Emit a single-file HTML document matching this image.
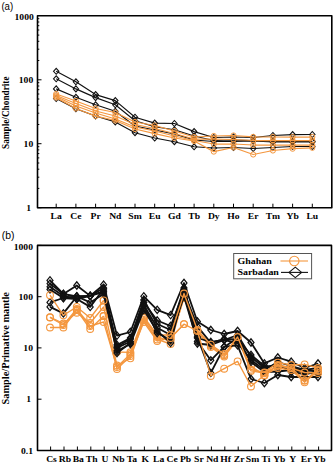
<!DOCTYPE html>
<html><head><meta charset="utf-8"><style>
html,body{margin:0;padding:0;background:#fff;width:334px;height:463px;overflow:hidden;}
svg{display:block;font-family:"Liberation Sans", sans-serif;}
</style></head><body>
<svg width="334" height="463" viewBox="0 0 334 463">
<rect width="334" height="463" fill="#fff"/>
<polyline points="56.2,71.3 75.9,81.8 95.6,94.6 115.3,100.6 135.0,117.2 154.7,123.1 174.4,123.5 194.1,131.6 213.8,137.5 233.5,137.0 253.2,137.5 272.9,135.5 292.6,134.6 312.3,134.5" fill="none" stroke="#111" stroke-width="1.15" stroke-linejoin="round"/>
<path d="M53.5 71.3L56.2 68.3L58.9 71.3L56.2 74.3Z" fill="none" stroke="#111" stroke-width="1.1"/>
<path d="M73.2 81.8L75.9 78.8L78.6 81.8L75.9 84.8Z" fill="none" stroke="#111" stroke-width="1.1"/>
<path d="M92.9 94.6L95.6 91.6L98.3 94.6L95.6 97.6Z" fill="none" stroke="#111" stroke-width="1.1"/>
<path d="M112.6 100.6L115.3 97.6L118.0 100.6L115.3 103.6Z" fill="none" stroke="#111" stroke-width="1.1"/>
<path d="M132.3 117.2L135.0 114.2L137.7 117.2L135.0 120.2Z" fill="none" stroke="#111" stroke-width="1.1"/>
<path d="M152.0 123.1L154.7 120.1L157.4 123.1L154.7 126.1Z" fill="none" stroke="#111" stroke-width="1.1"/>
<path d="M171.7 123.5L174.4 120.5L177.1 123.5L174.4 126.5Z" fill="none" stroke="#111" stroke-width="1.1"/>
<path d="M191.4 131.6L194.1 128.6L196.8 131.6L194.1 134.6Z" fill="none" stroke="#111" stroke-width="1.1"/>
<path d="M211.1 137.5L213.8 134.5L216.5 137.5L213.8 140.5Z" fill="none" stroke="#111" stroke-width="1.1"/>
<path d="M230.8 137.0L233.5 134.0L236.2 137.0L233.5 140.0Z" fill="none" stroke="#111" stroke-width="1.1"/>
<path d="M250.5 137.5L253.2 134.5L255.9 137.5L253.2 140.5Z" fill="none" stroke="#111" stroke-width="1.1"/>
<path d="M270.2 135.5L272.9 132.5L275.6 135.5L272.9 138.5Z" fill="none" stroke="#111" stroke-width="1.1"/>
<path d="M289.9 134.6L292.6 131.6L295.3 134.6L292.6 137.6Z" fill="none" stroke="#111" stroke-width="1.1"/>
<path d="M309.6 134.5L312.3 131.5L315.0 134.5L312.3 137.5Z" fill="none" stroke="#111" stroke-width="1.1"/>
<polyline points="56.2,78.8 75.9,88.9 95.6,97.6 115.3,104.8 135.0,120.7 154.7,126.7 174.4,129.8 194.1,136.0 213.8,140.5 233.5,140.0 253.2,140.6 272.9,141.5 292.6,141.5 312.3,141.5" fill="none" stroke="#111" stroke-width="1.15" stroke-linejoin="round"/>
<path d="M53.5 78.8L56.2 75.8L58.9 78.8L56.2 81.8Z" fill="none" stroke="#111" stroke-width="1.1"/>
<path d="M73.2 88.9L75.9 85.9L78.6 88.9L75.9 91.9Z" fill="none" stroke="#111" stroke-width="1.1"/>
<path d="M92.9 97.6L95.6 94.6L98.3 97.6L95.6 100.6Z" fill="none" stroke="#111" stroke-width="1.1"/>
<path d="M112.6 104.8L115.3 101.8L118.0 104.8L115.3 107.8Z" fill="none" stroke="#111" stroke-width="1.1"/>
<path d="M132.3 120.7L135.0 117.7L137.7 120.7L135.0 123.7Z" fill="none" stroke="#111" stroke-width="1.1"/>
<path d="M152.0 126.7L154.7 123.7L157.4 126.7L154.7 129.7Z" fill="none" stroke="#111" stroke-width="1.1"/>
<path d="M171.7 129.8L174.4 126.8L177.1 129.8L174.4 132.8Z" fill="none" stroke="#111" stroke-width="1.1"/>
<path d="M191.4 136.0L194.1 133.0L196.8 136.0L194.1 139.0Z" fill="none" stroke="#111" stroke-width="1.1"/>
<path d="M211.1 140.5L213.8 137.5L216.5 140.5L213.8 143.5Z" fill="none" stroke="#111" stroke-width="1.1"/>
<path d="M230.8 140.0L233.5 137.0L236.2 140.0L233.5 143.0Z" fill="none" stroke="#111" stroke-width="1.1"/>
<path d="M250.5 140.6L253.2 137.6L255.9 140.6L253.2 143.6Z" fill="none" stroke="#111" stroke-width="1.1"/>
<path d="M270.2 141.5L272.9 138.5L275.6 141.5L272.9 144.5Z" fill="none" stroke="#111" stroke-width="1.1"/>
<path d="M289.9 141.5L292.6 138.5L295.3 141.5L292.6 144.5Z" fill="none" stroke="#111" stroke-width="1.1"/>
<path d="M309.6 141.5L312.3 138.5L315.0 141.5L312.3 144.5Z" fill="none" stroke="#111" stroke-width="1.1"/>
<polyline points="56.2,88.9 75.9,97.3 95.6,104.8 115.3,111.3 135.0,126.0 154.7,130.0 174.4,134.0 194.1,140.0 213.8,141.5 233.5,141.5 253.2,141.0 272.9,142.0 292.6,142.0 312.3,142.0" fill="none" stroke="#111" stroke-width="1.15" stroke-linejoin="round"/>
<path d="M53.5 88.9L56.2 85.9L58.9 88.9L56.2 91.9Z" fill="none" stroke="#111" stroke-width="1.1"/>
<path d="M73.2 97.3L75.9 94.3L78.6 97.3L75.9 100.3Z" fill="none" stroke="#111" stroke-width="1.1"/>
<path d="M92.9 104.8L95.6 101.8L98.3 104.8L95.6 107.8Z" fill="none" stroke="#111" stroke-width="1.1"/>
<path d="M112.6 111.3L115.3 108.3L118.0 111.3L115.3 114.3Z" fill="none" stroke="#111" stroke-width="1.1"/>
<path d="M132.3 126.0L135.0 123.0L137.7 126.0L135.0 129.0Z" fill="none" stroke="#111" stroke-width="1.1"/>
<path d="M152.0 130.0L154.7 127.0L157.4 130.0L154.7 133.0Z" fill="none" stroke="#111" stroke-width="1.1"/>
<path d="M171.7 134.0L174.4 131.0L177.1 134.0L174.4 137.0Z" fill="none" stroke="#111" stroke-width="1.1"/>
<path d="M191.4 140.0L194.1 137.0L196.8 140.0L194.1 143.0Z" fill="none" stroke="#111" stroke-width="1.1"/>
<path d="M211.1 141.5L213.8 138.5L216.5 141.5L213.8 144.5Z" fill="none" stroke="#111" stroke-width="1.1"/>
<path d="M230.8 141.5L233.5 138.5L236.2 141.5L233.5 144.5Z" fill="none" stroke="#111" stroke-width="1.1"/>
<path d="M250.5 141.0L253.2 138.0L255.9 141.0L253.2 144.0Z" fill="none" stroke="#111" stroke-width="1.1"/>
<path d="M270.2 142.0L272.9 139.0L275.6 142.0L272.9 145.0Z" fill="none" stroke="#111" stroke-width="1.1"/>
<path d="M289.9 142.0L292.6 139.0L295.3 142.0L292.6 145.0Z" fill="none" stroke="#111" stroke-width="1.1"/>
<path d="M309.6 142.0L312.3 139.0L315.0 142.0L312.3 145.0Z" fill="none" stroke="#111" stroke-width="1.1"/>
<polyline points="56.2,98.5 75.9,108.7 95.6,116.0 115.3,121.9 135.0,132.7 154.7,138.0 174.4,141.7 194.1,146.8 213.8,148.0 233.5,147.5 253.2,148.5 272.9,147.5 292.6,146.5 312.3,146.5" fill="none" stroke="#111" stroke-width="1.15" stroke-linejoin="round"/>
<path d="M53.5 98.5L56.2 95.5L58.9 98.5L56.2 101.5Z" fill="none" stroke="#111" stroke-width="1.1"/>
<path d="M73.2 108.7L75.9 105.7L78.6 108.7L75.9 111.7Z" fill="none" stroke="#111" stroke-width="1.1"/>
<path d="M92.9 116.0L95.6 113.0L98.3 116.0L95.6 119.0Z" fill="none" stroke="#111" stroke-width="1.1"/>
<path d="M112.6 121.9L115.3 118.9L118.0 121.9L115.3 124.9Z" fill="none" stroke="#111" stroke-width="1.1"/>
<path d="M132.3 132.7L135.0 129.7L137.7 132.7L135.0 135.7Z" fill="none" stroke="#111" stroke-width="1.1"/>
<path d="M152.0 138.0L154.7 135.0L157.4 138.0L154.7 141.0Z" fill="none" stroke="#111" stroke-width="1.1"/>
<path d="M171.7 141.7L174.4 138.7L177.1 141.7L174.4 144.7Z" fill="none" stroke="#111" stroke-width="1.1"/>
<path d="M191.4 146.8L194.1 143.8L196.8 146.8L194.1 149.8Z" fill="none" stroke="#111" stroke-width="1.1"/>
<path d="M211.1 148.0L213.8 145.0L216.5 148.0L213.8 151.0Z" fill="none" stroke="#111" stroke-width="1.1"/>
<path d="M230.8 147.5L233.5 144.5L236.2 147.5L233.5 150.5Z" fill="none" stroke="#111" stroke-width="1.1"/>
<path d="M250.5 148.5L253.2 145.5L255.9 148.5L253.2 151.5Z" fill="none" stroke="#111" stroke-width="1.1"/>
<path d="M270.2 147.5L272.9 144.5L275.6 147.5L272.9 150.5Z" fill="none" stroke="#111" stroke-width="1.1"/>
<path d="M289.9 146.5L292.6 143.5L295.3 146.5L292.6 149.5Z" fill="none" stroke="#111" stroke-width="1.1"/>
<path d="M309.6 146.5L312.3 143.5L315.0 146.5L312.3 149.5Z" fill="none" stroke="#111" stroke-width="1.1"/>
<polyline points="56.2,94.0 75.9,101.0 95.6,108.5 115.3,112.5 135.0,122.0 154.7,125.5 174.4,131.0 194.1,137.0 213.8,136.0 233.5,135.5 253.2,136.9 272.9,137.0 292.6,137.0 312.3,137.0" fill="none" stroke="#F4973F" stroke-width="1.25" stroke-linejoin="round"/>
<circle cx="56.2" cy="94.0" r="2.6" fill="none" stroke="#F4973F" stroke-width="1.0"/>
<circle cx="75.9" cy="101.0" r="2.6" fill="none" stroke="#F4973F" stroke-width="1.0"/>
<circle cx="95.6" cy="108.5" r="2.6" fill="none" stroke="#F4973F" stroke-width="1.0"/>
<circle cx="115.3" cy="112.5" r="2.6" fill="none" stroke="#F4973F" stroke-width="1.0"/>
<circle cx="135.0" cy="122.0" r="2.6" fill="none" stroke="#F4973F" stroke-width="1.0"/>
<circle cx="154.7" cy="125.5" r="2.6" fill="none" stroke="#F4973F" stroke-width="1.0"/>
<circle cx="174.4" cy="131.0" r="2.6" fill="none" stroke="#F4973F" stroke-width="1.0"/>
<circle cx="194.1" cy="137.0" r="2.6" fill="none" stroke="#F4973F" stroke-width="1.0"/>
<circle cx="213.8" cy="136.0" r="2.6" fill="none" stroke="#F4973F" stroke-width="1.0"/>
<circle cx="233.5" cy="135.5" r="2.6" fill="none" stroke="#F4973F" stroke-width="1.0"/>
<circle cx="253.2" cy="136.9" r="2.6" fill="none" stroke="#F4973F" stroke-width="1.0"/>
<circle cx="272.9" cy="137.0" r="2.6" fill="none" stroke="#F4973F" stroke-width="1.0"/>
<circle cx="292.6" cy="137.0" r="2.6" fill="none" stroke="#F4973F" stroke-width="1.0"/>
<circle cx="312.3" cy="137.0" r="2.6" fill="none" stroke="#F4973F" stroke-width="1.0"/>
<polyline points="56.2,95.5 75.9,103.5 95.6,111.0 115.3,116.0 135.0,124.5 154.7,128.5 174.4,133.5 194.1,139.0 213.8,139.0 233.5,139.5 253.2,140.5 272.9,140.5 292.6,140.5 312.3,140.5" fill="none" stroke="#F4973F" stroke-width="1.25" stroke-linejoin="round"/>
<circle cx="56.2" cy="95.5" r="2.6" fill="none" stroke="#F4973F" stroke-width="1.0"/>
<circle cx="75.9" cy="103.5" r="2.6" fill="none" stroke="#F4973F" stroke-width="1.0"/>
<circle cx="95.6" cy="111.0" r="2.6" fill="none" stroke="#F4973F" stroke-width="1.0"/>
<circle cx="115.3" cy="116.0" r="2.6" fill="none" stroke="#F4973F" stroke-width="1.0"/>
<circle cx="135.0" cy="124.5" r="2.6" fill="none" stroke="#F4973F" stroke-width="1.0"/>
<circle cx="154.7" cy="128.5" r="2.6" fill="none" stroke="#F4973F" stroke-width="1.0"/>
<circle cx="174.4" cy="133.5" r="2.6" fill="none" stroke="#F4973F" stroke-width="1.0"/>
<circle cx="194.1" cy="139.0" r="2.6" fill="none" stroke="#F4973F" stroke-width="1.0"/>
<circle cx="213.8" cy="139.0" r="2.6" fill="none" stroke="#F4973F" stroke-width="1.0"/>
<circle cx="233.5" cy="139.5" r="2.6" fill="none" stroke="#F4973F" stroke-width="1.0"/>
<circle cx="253.2" cy="140.5" r="2.6" fill="none" stroke="#F4973F" stroke-width="1.0"/>
<circle cx="272.9" cy="140.5" r="2.6" fill="none" stroke="#F4973F" stroke-width="1.0"/>
<circle cx="292.6" cy="140.5" r="2.6" fill="none" stroke="#F4973F" stroke-width="1.0"/>
<circle cx="312.3" cy="140.5" r="2.6" fill="none" stroke="#F4973F" stroke-width="1.0"/>
<polyline points="56.2,96.5 75.9,106.0 95.6,113.0 115.3,119.0 135.0,127.0 154.7,131.0 174.4,136.0 194.1,140.5 213.8,144.0 233.5,144.0 253.2,145.0 272.9,145.0 292.6,145.0 312.3,145.0" fill="none" stroke="#F4973F" stroke-width="1.25" stroke-linejoin="round"/>
<circle cx="56.2" cy="96.5" r="2.6" fill="none" stroke="#F4973F" stroke-width="1.0"/>
<circle cx="75.9" cy="106.0" r="2.6" fill="none" stroke="#F4973F" stroke-width="1.0"/>
<circle cx="95.6" cy="113.0" r="2.6" fill="none" stroke="#F4973F" stroke-width="1.0"/>
<circle cx="115.3" cy="119.0" r="2.6" fill="none" stroke="#F4973F" stroke-width="1.0"/>
<circle cx="135.0" cy="127.0" r="2.6" fill="none" stroke="#F4973F" stroke-width="1.0"/>
<circle cx="154.7" cy="131.0" r="2.6" fill="none" stroke="#F4973F" stroke-width="1.0"/>
<circle cx="174.4" cy="136.0" r="2.6" fill="none" stroke="#F4973F" stroke-width="1.0"/>
<circle cx="194.1" cy="140.5" r="2.6" fill="none" stroke="#F4973F" stroke-width="1.0"/>
<circle cx="213.8" cy="144.0" r="2.6" fill="none" stroke="#F4973F" stroke-width="1.0"/>
<circle cx="233.5" cy="144.0" r="2.6" fill="none" stroke="#F4973F" stroke-width="1.0"/>
<circle cx="253.2" cy="145.0" r="2.6" fill="none" stroke="#F4973F" stroke-width="1.0"/>
<circle cx="272.9" cy="145.0" r="2.6" fill="none" stroke="#F4973F" stroke-width="1.0"/>
<circle cx="292.6" cy="145.0" r="2.6" fill="none" stroke="#F4973F" stroke-width="1.0"/>
<circle cx="312.3" cy="145.0" r="2.6" fill="none" stroke="#F4973F" stroke-width="1.0"/>
<polyline points="56.2,97.6 75.9,108.5 95.6,116.1 115.3,120.5 135.0,129.0 154.7,133.6 174.4,138.0 194.1,141.0 213.8,151.6 233.5,147.5 253.2,154.5 272.9,150.5 292.6,148.7 312.3,147.8" fill="none" stroke="#F4973F" stroke-width="1.25" stroke-linejoin="round"/>
<circle cx="56.2" cy="97.6" r="2.6" fill="none" stroke="#F4973F" stroke-width="1.0"/>
<circle cx="75.9" cy="108.5" r="2.6" fill="none" stroke="#F4973F" stroke-width="1.0"/>
<circle cx="95.6" cy="116.1" r="2.6" fill="none" stroke="#F4973F" stroke-width="1.0"/>
<circle cx="115.3" cy="120.5" r="2.6" fill="none" stroke="#F4973F" stroke-width="1.0"/>
<circle cx="135.0" cy="129.0" r="2.6" fill="none" stroke="#F4973F" stroke-width="1.0"/>
<circle cx="154.7" cy="133.6" r="2.6" fill="none" stroke="#F4973F" stroke-width="1.0"/>
<circle cx="174.4" cy="138.0" r="2.6" fill="none" stroke="#F4973F" stroke-width="1.0"/>
<circle cx="194.1" cy="141.0" r="2.6" fill="none" stroke="#F4973F" stroke-width="1.0"/>
<circle cx="213.8" cy="151.6" r="2.6" fill="none" stroke="#F4973F" stroke-width="1.0"/>
<circle cx="233.5" cy="147.5" r="2.6" fill="none" stroke="#F4973F" stroke-width="1.0"/>
<circle cx="253.2" cy="154.5" r="2.6" fill="none" stroke="#F4973F" stroke-width="1.0"/>
<circle cx="272.9" cy="150.5" r="2.6" fill="none" stroke="#F4973F" stroke-width="1.0"/>
<circle cx="292.6" cy="148.7" r="2.6" fill="none" stroke="#F4973F" stroke-width="1.0"/>
<circle cx="312.3" cy="147.8" r="2.6" fill="none" stroke="#F4973F" stroke-width="1.0"/>
<rect x="37.5" y="15.8" width="294.3" height="191.9" fill="none" stroke="#000" stroke-width="1.6" stroke-linejoin="round"/>
<line x1="56.2" y1="207.7" x2="56.2" y2="203.7" stroke="#000" stroke-width="1"/>
<line x1="75.9" y1="207.7" x2="75.9" y2="203.7" stroke="#000" stroke-width="1"/>
<line x1="95.6" y1="207.7" x2="95.6" y2="203.7" stroke="#000" stroke-width="1"/>
<line x1="115.3" y1="207.7" x2="115.3" y2="203.7" stroke="#000" stroke-width="1"/>
<line x1="135.0" y1="207.7" x2="135.0" y2="203.7" stroke="#000" stroke-width="1"/>
<line x1="154.7" y1="207.7" x2="154.7" y2="203.7" stroke="#000" stroke-width="1"/>
<line x1="174.4" y1="207.7" x2="174.4" y2="203.7" stroke="#000" stroke-width="1"/>
<line x1="194.1" y1="207.7" x2="194.1" y2="203.7" stroke="#000" stroke-width="1"/>
<line x1="213.8" y1="207.7" x2="213.8" y2="203.7" stroke="#000" stroke-width="1"/>
<line x1="233.5" y1="207.7" x2="233.5" y2="203.7" stroke="#000" stroke-width="1"/>
<line x1="253.2" y1="207.7" x2="253.2" y2="203.7" stroke="#000" stroke-width="1"/>
<line x1="272.9" y1="207.7" x2="272.9" y2="203.7" stroke="#000" stroke-width="1"/>
<line x1="292.6" y1="207.7" x2="292.6" y2="203.7" stroke="#000" stroke-width="1"/>
<line x1="312.3" y1="207.7" x2="312.3" y2="203.7" stroke="#000" stroke-width="1"/>
<line x1="37.5" y1="207.7" x2="41.5" y2="207.7" stroke="#000" stroke-width="1"/>
<line x1="37.5" y1="188.4" x2="39.3" y2="188.4" stroke="#000" stroke-width="1"/>
<line x1="37.5" y1="177.2" x2="39.3" y2="177.2" stroke="#000" stroke-width="1"/>
<line x1="37.5" y1="169.2" x2="39.3" y2="169.2" stroke="#000" stroke-width="1"/>
<line x1="37.5" y1="163.0" x2="39.3" y2="163.0" stroke="#000" stroke-width="1"/>
<line x1="37.5" y1="157.9" x2="39.3" y2="157.9" stroke="#000" stroke-width="1"/>
<line x1="37.5" y1="153.6" x2="39.3" y2="153.6" stroke="#000" stroke-width="1"/>
<line x1="37.5" y1="149.9" x2="39.3" y2="149.9" stroke="#000" stroke-width="1"/>
<line x1="37.5" y1="146.7" x2="39.3" y2="146.7" stroke="#000" stroke-width="1"/>
<line x1="37.5" y1="143.7" x2="41.5" y2="143.7" stroke="#000" stroke-width="1"/>
<line x1="37.5" y1="124.5" x2="39.3" y2="124.5" stroke="#000" stroke-width="1"/>
<line x1="37.5" y1="113.2" x2="39.3" y2="113.2" stroke="#000" stroke-width="1"/>
<line x1="37.5" y1="105.2" x2="39.3" y2="105.2" stroke="#000" stroke-width="1"/>
<line x1="37.5" y1="99.0" x2="39.3" y2="99.0" stroke="#000" stroke-width="1"/>
<line x1="37.5" y1="94.0" x2="39.3" y2="94.0" stroke="#000" stroke-width="1"/>
<line x1="37.5" y1="89.7" x2="39.3" y2="89.7" stroke="#000" stroke-width="1"/>
<line x1="37.5" y1="86.0" x2="39.3" y2="86.0" stroke="#000" stroke-width="1"/>
<line x1="37.5" y1="82.7" x2="39.3" y2="82.7" stroke="#000" stroke-width="1"/>
<line x1="37.5" y1="79.8" x2="41.5" y2="79.8" stroke="#000" stroke-width="1"/>
<line x1="37.5" y1="60.5" x2="39.3" y2="60.5" stroke="#000" stroke-width="1"/>
<line x1="37.5" y1="49.2" x2="39.3" y2="49.2" stroke="#000" stroke-width="1"/>
<line x1="37.5" y1="41.3" x2="39.3" y2="41.3" stroke="#000" stroke-width="1"/>
<line x1="37.5" y1="35.1" x2="39.3" y2="35.1" stroke="#000" stroke-width="1"/>
<line x1="37.5" y1="30.0" x2="39.3" y2="30.0" stroke="#000" stroke-width="1"/>
<line x1="37.5" y1="25.7" x2="39.3" y2="25.7" stroke="#000" stroke-width="1"/>
<line x1="37.5" y1="22.0" x2="39.3" y2="22.0" stroke="#000" stroke-width="1"/>
<line x1="37.5" y1="18.7" x2="39.3" y2="18.7" stroke="#000" stroke-width="1"/>
<text transform="translate(1.40,10.00) scale(0.920,1)" text-anchor="start" font-family="Liberation Sans" font-size="10.5">(a)</text>
<text transform="translate(31.00,210.90) scale(1.120,1)" text-anchor="end" font-family="Liberation Serif" font-weight="bold" font-size="8.6">1</text>
<text transform="translate(33.20,146.93) scale(1.120,1)" text-anchor="end" font-family="Liberation Serif" font-weight="bold" font-size="8.6">10</text>
<text transform="translate(33.20,82.97) scale(1.120,1)" text-anchor="end" font-family="Liberation Serif" font-weight="bold" font-size="8.6">100</text>
<text transform="translate(33.80,20.20) scale(1.120,1)" text-anchor="end" font-family="Liberation Serif" font-weight="bold" font-size="8.6">1000</text>
<text transform="translate(56.20,219.30) scale(1.120,1)" text-anchor="middle" font-family="Liberation Serif" font-weight="bold" font-size="8.6">La</text>
<text transform="translate(75.90,219.30) scale(1.120,1)" text-anchor="middle" font-family="Liberation Serif" font-weight="bold" font-size="8.6">Ce</text>
<text transform="translate(95.60,219.30) scale(1.120,1)" text-anchor="middle" font-family="Liberation Serif" font-weight="bold" font-size="8.6">Pr</text>
<text transform="translate(115.30,219.30) scale(1.120,1)" text-anchor="middle" font-family="Liberation Serif" font-weight="bold" font-size="8.6">Nd</text>
<text transform="translate(135.00,219.30) scale(1.120,1)" text-anchor="middle" font-family="Liberation Serif" font-weight="bold" font-size="8.6">Sm</text>
<text transform="translate(154.70,219.30) scale(1.120,1)" text-anchor="middle" font-family="Liberation Serif" font-weight="bold" font-size="8.6">Eu</text>
<text transform="translate(174.40,219.30) scale(1.120,1)" text-anchor="middle" font-family="Liberation Serif" font-weight="bold" font-size="8.6">Gd</text>
<text transform="translate(194.10,219.30) scale(1.120,1)" text-anchor="middle" font-family="Liberation Serif" font-weight="bold" font-size="8.6">Tb</text>
<text transform="translate(213.80,219.30) scale(1.120,1)" text-anchor="middle" font-family="Liberation Serif" font-weight="bold" font-size="8.6">Dy</text>
<text transform="translate(233.50,219.30) scale(1.120,1)" text-anchor="middle" font-family="Liberation Serif" font-weight="bold" font-size="8.6">Ho</text>
<text transform="translate(253.20,219.30) scale(1.120,1)" text-anchor="middle" font-family="Liberation Serif" font-weight="bold" font-size="8.6">Er</text>
<text transform="translate(272.90,219.30) scale(1.120,1)" text-anchor="middle" font-family="Liberation Serif" font-weight="bold" font-size="8.6">Tm</text>
<text transform="translate(292.60,219.30) scale(1.120,1)" text-anchor="middle" font-family="Liberation Serif" font-weight="bold" font-size="8.6">Yb</text>
<text transform="translate(312.30,219.30) scale(1.120,1)" text-anchor="middle" font-family="Liberation Serif" font-weight="bold" font-size="8.6">Lu</text>
<text transform="translate(8.8,112.7) scale(1.12,1) rotate(-90)" text-anchor="middle" font-family="Liberation Serif" font-weight="bold" font-size="9" textLength="72.5" lengthAdjust="spacingAndGlyphs">Sample/Chondrite</text>
<polyline points="50.0,317.2 63.4,323.5 76.8,312.7 90.2,323.0 103.6,307.0 117.0,365.5 130.4,358.3 143.8,320.0 157.2,339.4 170.6,344.0 184.0,296.0 197.4,332.5 210.8,347.1 224.2,356.5 237.6,339.5 251.0,366.0 264.4,375.4 277.8,365.0 291.2,368.0 304.6,372.5 318.0,373.0" fill="none" stroke="#F4973F" stroke-width="1.35" stroke-linejoin="round"/>
<circle cx="50.0" cy="317.2" r="3.4" fill="none" stroke="#F4973F" stroke-width="1.1"/>
<circle cx="63.4" cy="323.5" r="3.4" fill="none" stroke="#F4973F" stroke-width="1.1"/>
<circle cx="76.8" cy="312.7" r="3.4" fill="none" stroke="#F4973F" stroke-width="1.1"/>
<circle cx="90.2" cy="323.0" r="3.4" fill="none" stroke="#F4973F" stroke-width="1.1"/>
<circle cx="103.6" cy="307.0" r="3.4" fill="none" stroke="#F4973F" stroke-width="1.1"/>
<circle cx="117.0" cy="365.5" r="3.4" fill="none" stroke="#F4973F" stroke-width="1.1"/>
<circle cx="130.4" cy="358.3" r="3.4" fill="none" stroke="#F4973F" stroke-width="1.1"/>
<circle cx="143.8" cy="320.0" r="3.4" fill="none" stroke="#F4973F" stroke-width="1.1"/>
<circle cx="157.2" cy="339.4" r="3.4" fill="none" stroke="#F4973F" stroke-width="1.1"/>
<circle cx="170.6" cy="344.0" r="3.4" fill="none" stroke="#F4973F" stroke-width="1.1"/>
<circle cx="184.0" cy="296.0" r="3.4" fill="none" stroke="#F4973F" stroke-width="1.1"/>
<circle cx="197.4" cy="332.5" r="3.4" fill="none" stroke="#F4973F" stroke-width="1.1"/>
<circle cx="210.8" cy="347.1" r="3.4" fill="none" stroke="#F4973F" stroke-width="1.1"/>
<circle cx="224.2" cy="356.5" r="3.4" fill="none" stroke="#F4973F" stroke-width="1.1"/>
<circle cx="237.6" cy="339.5" r="3.4" fill="none" stroke="#F4973F" stroke-width="1.1"/>
<circle cx="251.0" cy="366.0" r="3.4" fill="none" stroke="#F4973F" stroke-width="1.1"/>
<circle cx="264.4" cy="375.4" r="3.4" fill="none" stroke="#F4973F" stroke-width="1.1"/>
<circle cx="277.8" cy="365.0" r="3.4" fill="none" stroke="#F4973F" stroke-width="1.1"/>
<circle cx="291.2" cy="368.0" r="3.4" fill="none" stroke="#F4973F" stroke-width="1.1"/>
<circle cx="304.6" cy="372.5" r="3.4" fill="none" stroke="#F4973F" stroke-width="1.1"/>
<circle cx="318.0" cy="373.0" r="3.4" fill="none" stroke="#F4973F" stroke-width="1.1"/>
<polyline points="50.0,317.5 63.4,325.0 76.8,309.0 90.2,326.0 103.6,322.0 117.0,367.0 130.4,354.0 143.8,318.0 157.2,337.0 170.6,341.0 184.0,298.0 197.4,331.2 210.8,345.8 224.2,355.2 237.6,338.2 251.0,370.9 264.4,373.0 277.8,366.0 291.2,368.0 304.6,380.5 318.0,370.0" fill="none" stroke="#F4973F" stroke-width="1.35" stroke-linejoin="round"/>
<circle cx="50.0" cy="317.5" r="3.4" fill="none" stroke="#F4973F" stroke-width="1.1"/>
<circle cx="63.4" cy="325.0" r="3.4" fill="none" stroke="#F4973F" stroke-width="1.1"/>
<circle cx="76.8" cy="309.0" r="3.4" fill="none" stroke="#F4973F" stroke-width="1.1"/>
<circle cx="90.2" cy="326.0" r="3.4" fill="none" stroke="#F4973F" stroke-width="1.1"/>
<circle cx="103.6" cy="322.0" r="3.4" fill="none" stroke="#F4973F" stroke-width="1.1"/>
<circle cx="117.0" cy="367.0" r="3.4" fill="none" stroke="#F4973F" stroke-width="1.1"/>
<circle cx="130.4" cy="354.0" r="3.4" fill="none" stroke="#F4973F" stroke-width="1.1"/>
<circle cx="143.8" cy="318.0" r="3.4" fill="none" stroke="#F4973F" stroke-width="1.1"/>
<circle cx="157.2" cy="337.0" r="3.4" fill="none" stroke="#F4973F" stroke-width="1.1"/>
<circle cx="170.6" cy="341.0" r="3.4" fill="none" stroke="#F4973F" stroke-width="1.1"/>
<circle cx="184.0" cy="298.0" r="3.4" fill="none" stroke="#F4973F" stroke-width="1.1"/>
<circle cx="197.4" cy="331.2" r="3.4" fill="none" stroke="#F4973F" stroke-width="1.1"/>
<circle cx="210.8" cy="345.8" r="3.4" fill="none" stroke="#F4973F" stroke-width="1.1"/>
<circle cx="224.2" cy="355.2" r="3.4" fill="none" stroke="#F4973F" stroke-width="1.1"/>
<circle cx="237.6" cy="338.2" r="3.4" fill="none" stroke="#F4973F" stroke-width="1.1"/>
<circle cx="251.0" cy="370.9" r="3.4" fill="none" stroke="#F4973F" stroke-width="1.1"/>
<circle cx="264.4" cy="373.0" r="3.4" fill="none" stroke="#F4973F" stroke-width="1.1"/>
<circle cx="277.8" cy="366.0" r="3.4" fill="none" stroke="#F4973F" stroke-width="1.1"/>
<circle cx="291.2" cy="368.0" r="3.4" fill="none" stroke="#F4973F" stroke-width="1.1"/>
<circle cx="304.6" cy="380.5" r="3.4" fill="none" stroke="#F4973F" stroke-width="1.1"/>
<circle cx="318.0" cy="370.0" r="3.4" fill="none" stroke="#F4973F" stroke-width="1.1"/>
<polyline points="103.6,300.4 117.0,352.0 130.4,352.3 143.8,317.0 157.2,335.0 170.6,335.0 184.0,293.5" fill="none" stroke="#F4973F" stroke-width="1.35" stroke-linejoin="round"/>
<circle cx="103.6" cy="300.4" r="3.4" fill="none" stroke="#F4973F" stroke-width="1.1"/>
<circle cx="117.0" cy="352.0" r="3.4" fill="none" stroke="#F4973F" stroke-width="1.1"/>
<circle cx="130.4" cy="352.3" r="3.4" fill="none" stroke="#F4973F" stroke-width="1.1"/>
<circle cx="143.8" cy="317.0" r="3.4" fill="none" stroke="#F4973F" stroke-width="1.1"/>
<circle cx="157.2" cy="335.0" r="3.4" fill="none" stroke="#F4973F" stroke-width="1.1"/>
<circle cx="170.6" cy="335.0" r="3.4" fill="none" stroke="#F4973F" stroke-width="1.1"/>
<circle cx="184.0" cy="293.5" r="3.4" fill="none" stroke="#F4973F" stroke-width="1.1"/>
<polyline points="103.6,316.0 117.0,369.0 130.4,356.0 143.8,322.0 157.2,341.0 170.6,338.0 184.0,324.1" fill="none" stroke="#F4973F" stroke-width="1.35" stroke-linejoin="round"/>
<circle cx="103.6" cy="316.0" r="3.4" fill="none" stroke="#F4973F" stroke-width="1.1"/>
<circle cx="117.0" cy="369.0" r="3.4" fill="none" stroke="#F4973F" stroke-width="1.1"/>
<circle cx="130.4" cy="356.0" r="3.4" fill="none" stroke="#F4973F" stroke-width="1.1"/>
<circle cx="143.8" cy="322.0" r="3.4" fill="none" stroke="#F4973F" stroke-width="1.1"/>
<circle cx="157.2" cy="341.0" r="3.4" fill="none" stroke="#F4973F" stroke-width="1.1"/>
<circle cx="170.6" cy="338.0" r="3.4" fill="none" stroke="#F4973F" stroke-width="1.1"/>
<circle cx="184.0" cy="324.1" r="3.4" fill="none" stroke="#F4973F" stroke-width="1.1"/>
<polyline points="50.0,280.4 63.4,294.0 76.8,285.5 90.2,295.9 103.6,284.7 117.0,335.6 130.4,332.0 143.8,296.3 157.2,309.8 170.6,315.1 184.0,283.0 197.4,321.5 210.8,330.0 224.2,334.0 237.6,331.0 251.0,342.5 264.4,363.4 277.8,357.5 291.2,361.7 304.6,368.0 318.0,363.5" fill="none" stroke="#111" stroke-width="1.8" stroke-linejoin="round"/>
<path d="M47.0 280.4L50.0 276.7L53.0 280.4L50.0 284.1Z" fill="none" stroke="#111" stroke-width="1.2"/>
<path d="M60.4 294.0L63.4 290.3L66.4 294.0L63.4 297.7Z" fill="none" stroke="#111" stroke-width="1.2"/>
<path d="M73.8 285.5L76.8 281.8L79.8 285.5L76.8 289.2Z" fill="none" stroke="#111" stroke-width="1.2"/>
<path d="M87.2 295.9L90.2 292.2L93.2 295.9L90.2 299.6Z" fill="none" stroke="#111" stroke-width="1.2"/>
<path d="M100.6 284.7L103.6 281.0L106.6 284.7L103.6 288.4Z" fill="none" stroke="#111" stroke-width="1.2"/>
<path d="M114.0 335.6L117.0 331.9L120.0 335.6L117.0 339.3Z" fill="none" stroke="#111" stroke-width="1.2"/>
<path d="M127.4 332.0L130.4 328.3L133.4 332.0L130.4 335.7Z" fill="none" stroke="#111" stroke-width="1.2"/>
<path d="M140.8 296.3L143.8 292.6L146.8 296.3L143.8 300.0Z" fill="none" stroke="#111" stroke-width="1.2"/>
<path d="M154.2 309.8L157.2 306.1L160.2 309.8L157.2 313.5Z" fill="none" stroke="#111" stroke-width="1.2"/>
<path d="M167.6 315.1L170.6 311.4L173.6 315.1L170.6 318.8Z" fill="none" stroke="#111" stroke-width="1.2"/>
<path d="M181.0 283.0L184.0 279.3L187.0 283.0L184.0 286.7Z" fill="none" stroke="#111" stroke-width="1.2"/>
<path d="M194.4 321.5L197.4 317.8L200.4 321.5L197.4 325.2Z" fill="none" stroke="#111" stroke-width="1.2"/>
<path d="M207.8 330.0L210.8 326.3L213.8 330.0L210.8 333.7Z" fill="none" stroke="#111" stroke-width="1.2"/>
<path d="M221.2 334.0L224.2 330.3L227.2 334.0L224.2 337.7Z" fill="none" stroke="#111" stroke-width="1.2"/>
<path d="M234.6 331.0L237.6 327.3L240.6 331.0L237.6 334.7Z" fill="none" stroke="#111" stroke-width="1.2"/>
<path d="M248.0 342.5L251.0 338.8L254.0 342.5L251.0 346.2Z" fill="none" stroke="#111" stroke-width="1.2"/>
<path d="M261.4 363.4L264.4 359.7L267.4 363.4L264.4 367.1Z" fill="none" stroke="#111" stroke-width="1.2"/>
<path d="M274.8 357.5L277.8 353.8L280.8 357.5L277.8 361.2Z" fill="none" stroke="#111" stroke-width="1.2"/>
<path d="M288.2 361.7L291.2 358.0L294.2 361.7L291.2 365.4Z" fill="none" stroke="#111" stroke-width="1.2"/>
<path d="M301.6 368.0L304.6 364.3L307.6 368.0L304.6 371.7Z" fill="none" stroke="#111" stroke-width="1.2"/>
<path d="M315.0 363.5L318.0 359.8L321.0 363.5L318.0 367.2Z" fill="none" stroke="#111" stroke-width="1.2"/>
<polyline points="50.0,283.6 63.4,294.0 76.8,296.5 90.2,295.9 103.6,288.0 117.0,345.0 130.4,338.0 143.8,302.5 157.2,320.5 170.6,326.0 184.0,292.0 197.4,326.4 210.8,342.9 224.2,339.0 237.6,339.3 251.0,355.0 264.4,366.0 277.8,366.4 291.2,368.0 304.6,370.0 318.0,371.5" fill="none" stroke="#111" stroke-width="1.8" stroke-linejoin="round"/>
<path d="M47.0 283.6L50.0 279.9L53.0 283.6L50.0 287.3Z" fill="none" stroke="#111" stroke-width="1.2"/>
<path d="M60.4 294.0L63.4 290.3L66.4 294.0L63.4 297.7Z" fill="none" stroke="#111" stroke-width="1.2"/>
<path d="M73.8 296.5L76.8 292.8L79.8 296.5L76.8 300.2Z" fill="none" stroke="#111" stroke-width="1.2"/>
<path d="M87.2 295.9L90.2 292.2L93.2 295.9L90.2 299.6Z" fill="none" stroke="#111" stroke-width="1.2"/>
<path d="M100.6 288.0L103.6 284.3L106.6 288.0L103.6 291.7Z" fill="none" stroke="#111" stroke-width="1.2"/>
<path d="M114.0 345.0L117.0 341.3L120.0 345.0L117.0 348.7Z" fill="none" stroke="#111" stroke-width="1.2"/>
<path d="M127.4 338.0L130.4 334.3L133.4 338.0L130.4 341.7Z" fill="none" stroke="#111" stroke-width="1.2"/>
<path d="M140.8 302.5L143.8 298.8L146.8 302.5L143.8 306.2Z" fill="none" stroke="#111" stroke-width="1.2"/>
<path d="M154.2 320.5L157.2 316.8L160.2 320.5L157.2 324.2Z" fill="none" stroke="#111" stroke-width="1.2"/>
<path d="M167.6 326.0L170.6 322.3L173.6 326.0L170.6 329.7Z" fill="none" stroke="#111" stroke-width="1.2"/>
<path d="M181.0 292.0L184.0 288.3L187.0 292.0L184.0 295.7Z" fill="none" stroke="#111" stroke-width="1.2"/>
<path d="M194.4 326.4L197.4 322.7L200.4 326.4L197.4 330.1Z" fill="none" stroke="#111" stroke-width="1.2"/>
<path d="M207.8 342.9L210.8 339.2L213.8 342.9L210.8 346.6Z" fill="none" stroke="#111" stroke-width="1.2"/>
<path d="M221.2 339.0L224.2 335.3L227.2 339.0L224.2 342.7Z" fill="none" stroke="#111" stroke-width="1.2"/>
<path d="M234.6 339.3L237.6 335.6L240.6 339.3L237.6 343.0Z" fill="none" stroke="#111" stroke-width="1.2"/>
<path d="M248.0 355.0L251.0 351.3L254.0 355.0L251.0 358.7Z" fill="none" stroke="#111" stroke-width="1.2"/>
<path d="M261.4 366.0L264.4 362.3L267.4 366.0L264.4 369.7Z" fill="none" stroke="#111" stroke-width="1.2"/>
<path d="M274.8 366.4L277.8 362.7L280.8 366.4L277.8 370.1Z" fill="none" stroke="#111" stroke-width="1.2"/>
<path d="M288.2 368.0L291.2 364.3L294.2 368.0L291.2 371.7Z" fill="none" stroke="#111" stroke-width="1.2"/>
<path d="M301.6 370.0L304.6 366.3L307.6 370.0L304.6 373.7Z" fill="none" stroke="#111" stroke-width="1.2"/>
<path d="M315.0 371.5L318.0 367.8L321.0 371.5L318.0 375.2Z" fill="none" stroke="#111" stroke-width="1.2"/>
<polyline points="50.0,286.8 63.4,296.0 76.8,299.0 90.2,295.9 103.6,291.0 117.0,348.0 130.4,341.5 143.8,305.0 157.2,327.7 170.6,335.0 184.0,296.5 197.4,341.4 210.8,360.3 224.2,346.7 237.6,345.4 251.0,379.0 264.4,383.0 277.8,375.0 291.2,377.0 304.6,377.0 318.0,377.0" fill="none" stroke="#111" stroke-width="1.8" stroke-linejoin="round"/>
<path d="M47.0 286.8L50.0 283.1L53.0 286.8L50.0 290.5Z" fill="none" stroke="#111" stroke-width="1.2"/>
<path d="M60.4 296.0L63.4 292.3L66.4 296.0L63.4 299.7Z" fill="none" stroke="#111" stroke-width="1.2"/>
<path d="M73.8 299.0L76.8 295.3L79.8 299.0L76.8 302.7Z" fill="none" stroke="#111" stroke-width="1.2"/>
<path d="M87.2 295.9L90.2 292.2L93.2 295.9L90.2 299.6Z" fill="none" stroke="#111" stroke-width="1.2"/>
<path d="M100.6 291.0L103.6 287.3L106.6 291.0L103.6 294.7Z" fill="none" stroke="#111" stroke-width="1.2"/>
<path d="M114.0 348.0L117.0 344.3L120.0 348.0L117.0 351.7Z" fill="none" stroke="#111" stroke-width="1.2"/>
<path d="M127.4 341.5L130.4 337.8L133.4 341.5L130.4 345.2Z" fill="none" stroke="#111" stroke-width="1.2"/>
<path d="M140.8 305.0L143.8 301.3L146.8 305.0L143.8 308.7Z" fill="none" stroke="#111" stroke-width="1.2"/>
<path d="M154.2 327.7L157.2 324.0L160.2 327.7L157.2 331.4Z" fill="none" stroke="#111" stroke-width="1.2"/>
<path d="M167.6 335.0L170.6 331.3L173.6 335.0L170.6 338.7Z" fill="none" stroke="#111" stroke-width="1.2"/>
<path d="M181.0 296.5L184.0 292.8L187.0 296.5L184.0 300.2Z" fill="none" stroke="#111" stroke-width="1.2"/>
<path d="M194.4 341.4L197.4 337.7L200.4 341.4L197.4 345.1Z" fill="none" stroke="#111" stroke-width="1.2"/>
<path d="M207.8 360.3L210.8 356.6L213.8 360.3L210.8 364.0Z" fill="none" stroke="#111" stroke-width="1.2"/>
<path d="M221.2 346.7L224.2 343.0L227.2 346.7L224.2 350.4Z" fill="none" stroke="#111" stroke-width="1.2"/>
<path d="M234.6 345.4L237.6 341.7L240.6 345.4L237.6 349.1Z" fill="none" stroke="#111" stroke-width="1.2"/>
<path d="M248.0 379.0L251.0 375.3L254.0 379.0L251.0 382.7Z" fill="none" stroke="#111" stroke-width="1.2"/>
<path d="M261.4 383.0L264.4 379.3L267.4 383.0L264.4 386.7Z" fill="none" stroke="#111" stroke-width="1.2"/>
<path d="M274.8 375.0L277.8 371.3L280.8 375.0L277.8 378.7Z" fill="none" stroke="#111" stroke-width="1.2"/>
<path d="M288.2 377.0L291.2 373.3L294.2 377.0L291.2 380.7Z" fill="none" stroke="#111" stroke-width="1.2"/>
<path d="M301.6 377.0L304.6 373.3L307.6 377.0L304.6 380.7Z" fill="none" stroke="#111" stroke-width="1.2"/>
<path d="M315.0 377.0L318.0 373.3L321.0 377.0L318.0 380.7Z" fill="none" stroke="#111" stroke-width="1.2"/>
<polyline points="50.0,289.4 63.4,298.0 76.8,296.5 90.2,302.4 103.6,294.0 117.0,351.0 130.4,344.0 143.8,310.0 157.2,331.0 170.6,342.9 184.0,290.0 197.4,337.0 210.8,372.9 224.2,347.0 237.6,338.0 251.0,362.0 264.4,372.0 277.8,371.5 291.2,370.0 304.6,372.0 318.0,374.0" fill="none" stroke="#111" stroke-width="1.8" stroke-linejoin="round"/>
<path d="M47.0 289.4L50.0 285.7L53.0 289.4L50.0 293.1Z" fill="none" stroke="#111" stroke-width="1.2"/>
<path d="M60.4 298.0L63.4 294.3L66.4 298.0L63.4 301.7Z" fill="none" stroke="#111" stroke-width="1.2"/>
<path d="M73.8 296.5L76.8 292.8L79.8 296.5L76.8 300.2Z" fill="none" stroke="#111" stroke-width="1.2"/>
<path d="M87.2 302.4L90.2 298.7L93.2 302.4L90.2 306.1Z" fill="none" stroke="#111" stroke-width="1.2"/>
<path d="M100.6 294.0L103.6 290.3L106.6 294.0L103.6 297.7Z" fill="none" stroke="#111" stroke-width="1.2"/>
<path d="M114.0 351.0L117.0 347.3L120.0 351.0L117.0 354.7Z" fill="none" stroke="#111" stroke-width="1.2"/>
<path d="M127.4 344.0L130.4 340.3L133.4 344.0L130.4 347.7Z" fill="none" stroke="#111" stroke-width="1.2"/>
<path d="M140.8 310.0L143.8 306.3L146.8 310.0L143.8 313.7Z" fill="none" stroke="#111" stroke-width="1.2"/>
<path d="M154.2 331.0L157.2 327.3L160.2 331.0L157.2 334.7Z" fill="none" stroke="#111" stroke-width="1.2"/>
<path d="M167.6 342.9L170.6 339.2L173.6 342.9L170.6 346.6Z" fill="none" stroke="#111" stroke-width="1.2"/>
<path d="M181.0 290.0L184.0 286.3L187.0 290.0L184.0 293.7Z" fill="none" stroke="#111" stroke-width="1.2"/>
<path d="M194.4 337.0L197.4 333.3L200.4 337.0L197.4 340.7Z" fill="none" stroke="#111" stroke-width="1.2"/>
<path d="M207.8 372.9L210.8 369.2L213.8 372.9L210.8 376.6Z" fill="none" stroke="#111" stroke-width="1.2"/>
<path d="M221.2 347.0L224.2 343.3L227.2 347.0L224.2 350.7Z" fill="none" stroke="#111" stroke-width="1.2"/>
<path d="M234.6 338.0L237.6 334.3L240.6 338.0L237.6 341.7Z" fill="none" stroke="#111" stroke-width="1.2"/>
<path d="M248.0 362.0L251.0 358.3L254.0 362.0L251.0 365.7Z" fill="none" stroke="#111" stroke-width="1.2"/>
<path d="M261.4 372.0L264.4 368.3L267.4 372.0L264.4 375.7Z" fill="none" stroke="#111" stroke-width="1.2"/>
<path d="M274.8 371.5L277.8 367.8L280.8 371.5L277.8 375.2Z" fill="none" stroke="#111" stroke-width="1.2"/>
<path d="M288.2 370.0L291.2 366.3L294.2 370.0L291.2 373.7Z" fill="none" stroke="#111" stroke-width="1.2"/>
<path d="M301.6 372.0L304.6 368.3L307.6 372.0L304.6 375.7Z" fill="none" stroke="#111" stroke-width="1.2"/>
<path d="M315.0 374.0L318.0 370.3L321.0 374.0L318.0 377.7Z" fill="none" stroke="#111" stroke-width="1.2"/>
<polyline points="50.0,302.4 63.4,298.0 76.8,299.0 90.2,306.9 103.6,289.0 117.0,353.0 130.4,343.0 143.8,306.0 157.2,333.0 170.6,340.0 184.0,292.0 197.4,343.5 210.8,345.0 224.2,340.0 237.6,343.0 251.0,360.0 264.4,370.0 277.8,362.0 291.2,366.0 304.6,369.8 318.0,368.0" fill="none" stroke="#111" stroke-width="1.8" stroke-linejoin="round"/>
<path d="M47.0 302.4L50.0 298.7L53.0 302.4L50.0 306.1Z" fill="none" stroke="#111" stroke-width="1.2"/>
<path d="M60.4 298.0L63.4 294.3L66.4 298.0L63.4 301.7Z" fill="none" stroke="#111" stroke-width="1.2"/>
<path d="M73.8 299.0L76.8 295.3L79.8 299.0L76.8 302.7Z" fill="none" stroke="#111" stroke-width="1.2"/>
<path d="M87.2 306.9L90.2 303.2L93.2 306.9L90.2 310.6Z" fill="none" stroke="#111" stroke-width="1.2"/>
<path d="M100.6 289.0L103.6 285.3L106.6 289.0L103.6 292.7Z" fill="none" stroke="#111" stroke-width="1.2"/>
<path d="M114.0 353.0L117.0 349.3L120.0 353.0L117.0 356.7Z" fill="none" stroke="#111" stroke-width="1.2"/>
<path d="M127.4 343.0L130.4 339.3L133.4 343.0L130.4 346.7Z" fill="none" stroke="#111" stroke-width="1.2"/>
<path d="M140.8 306.0L143.8 302.3L146.8 306.0L143.8 309.7Z" fill="none" stroke="#111" stroke-width="1.2"/>
<path d="M154.2 333.0L157.2 329.3L160.2 333.0L157.2 336.7Z" fill="none" stroke="#111" stroke-width="1.2"/>
<path d="M167.6 340.0L170.6 336.3L173.6 340.0L170.6 343.7Z" fill="none" stroke="#111" stroke-width="1.2"/>
<path d="M181.0 292.0L184.0 288.3L187.0 292.0L184.0 295.7Z" fill="none" stroke="#111" stroke-width="1.2"/>
<path d="M194.4 343.5L197.4 339.8L200.4 343.5L197.4 347.2Z" fill="none" stroke="#111" stroke-width="1.2"/>
<path d="M207.8 345.0L210.8 341.3L213.8 345.0L210.8 348.7Z" fill="none" stroke="#111" stroke-width="1.2"/>
<path d="M221.2 340.0L224.2 336.3L227.2 340.0L224.2 343.7Z" fill="none" stroke="#111" stroke-width="1.2"/>
<path d="M234.6 343.0L237.6 339.3L240.6 343.0L237.6 346.7Z" fill="none" stroke="#111" stroke-width="1.2"/>
<path d="M248.0 360.0L251.0 356.3L254.0 360.0L251.0 363.7Z" fill="none" stroke="#111" stroke-width="1.2"/>
<path d="M261.4 370.0L264.4 366.3L267.4 370.0L264.4 373.7Z" fill="none" stroke="#111" stroke-width="1.2"/>
<path d="M274.8 362.0L277.8 358.3L280.8 362.0L277.8 365.7Z" fill="none" stroke="#111" stroke-width="1.2"/>
<path d="M288.2 366.0L291.2 362.3L294.2 366.0L291.2 369.7Z" fill="none" stroke="#111" stroke-width="1.2"/>
<path d="M301.6 369.8L304.6 366.1L307.6 369.8L304.6 373.5Z" fill="none" stroke="#111" stroke-width="1.2"/>
<path d="M315.0 368.0L318.0 364.3L321.0 368.0L318.0 371.7Z" fill="none" stroke="#111" stroke-width="1.2"/>
<polyline points="50.0,306.9 63.4,313.4 76.8,296.5 90.2,296.0 103.6,292.0 117.0,347.0 130.4,339.0 143.8,300.0 157.2,324.0 170.6,330.0 184.0,288.0 197.4,338.0 210.8,342.0 224.2,340.0 237.6,335.0 251.0,357.0 264.4,368.0 277.8,364.0 291.2,372.0 304.6,374.0 318.0,372.0" fill="none" stroke="#111" stroke-width="1.8" stroke-linejoin="round"/>
<path d="M47.0 306.9L50.0 303.2L53.0 306.9L50.0 310.6Z" fill="none" stroke="#111" stroke-width="1.2"/>
<path d="M60.4 313.4L63.4 309.7L66.4 313.4L63.4 317.1Z" fill="none" stroke="#111" stroke-width="1.2"/>
<path d="M73.8 296.5L76.8 292.8L79.8 296.5L76.8 300.2Z" fill="none" stroke="#111" stroke-width="1.2"/>
<path d="M87.2 296.0L90.2 292.3L93.2 296.0L90.2 299.7Z" fill="none" stroke="#111" stroke-width="1.2"/>
<path d="M100.6 292.0L103.6 288.3L106.6 292.0L103.6 295.7Z" fill="none" stroke="#111" stroke-width="1.2"/>
<path d="M114.0 347.0L117.0 343.3L120.0 347.0L117.0 350.7Z" fill="none" stroke="#111" stroke-width="1.2"/>
<path d="M127.4 339.0L130.4 335.3L133.4 339.0L130.4 342.7Z" fill="none" stroke="#111" stroke-width="1.2"/>
<path d="M140.8 300.0L143.8 296.3L146.8 300.0L143.8 303.7Z" fill="none" stroke="#111" stroke-width="1.2"/>
<path d="M154.2 324.0L157.2 320.3L160.2 324.0L157.2 327.7Z" fill="none" stroke="#111" stroke-width="1.2"/>
<path d="M167.6 330.0L170.6 326.3L173.6 330.0L170.6 333.7Z" fill="none" stroke="#111" stroke-width="1.2"/>
<path d="M181.0 288.0L184.0 284.3L187.0 288.0L184.0 291.7Z" fill="none" stroke="#111" stroke-width="1.2"/>
<path d="M194.4 338.0L197.4 334.3L200.4 338.0L197.4 341.7Z" fill="none" stroke="#111" stroke-width="1.2"/>
<path d="M207.8 342.0L210.8 338.3L213.8 342.0L210.8 345.7Z" fill="none" stroke="#111" stroke-width="1.2"/>
<path d="M221.2 340.0L224.2 336.3L227.2 340.0L224.2 343.7Z" fill="none" stroke="#111" stroke-width="1.2"/>
<path d="M234.6 335.0L237.6 331.3L240.6 335.0L237.6 338.7Z" fill="none" stroke="#111" stroke-width="1.2"/>
<path d="M248.0 357.0L251.0 353.3L254.0 357.0L251.0 360.7Z" fill="none" stroke="#111" stroke-width="1.2"/>
<path d="M261.4 368.0L264.4 364.3L267.4 368.0L264.4 371.7Z" fill="none" stroke="#111" stroke-width="1.2"/>
<path d="M274.8 364.0L277.8 360.3L280.8 364.0L277.8 367.7Z" fill="none" stroke="#111" stroke-width="1.2"/>
<path d="M288.2 372.0L291.2 368.3L294.2 372.0L291.2 375.7Z" fill="none" stroke="#111" stroke-width="1.2"/>
<path d="M301.6 374.0L304.6 370.3L307.6 374.0L304.6 377.7Z" fill="none" stroke="#111" stroke-width="1.2"/>
<path d="M315.0 372.0L318.0 368.3L321.0 372.0L318.0 375.7Z" fill="none" stroke="#111" stroke-width="1.2"/>
<polyline points="50.0,295.2 63.4,315.3 76.8,306.9 90.2,318.0 103.6,300.4" fill="none" stroke="#F4973F" stroke-width="1.35" stroke-linejoin="round"/>
<circle cx="50.0" cy="295.2" r="3.4" fill="none" stroke="#F4973F" stroke-width="1.1"/>
<circle cx="63.4" cy="315.3" r="3.4" fill="none" stroke="#F4973F" stroke-width="1.1"/>
<circle cx="76.8" cy="306.9" r="3.4" fill="none" stroke="#F4973F" stroke-width="1.1"/>
<circle cx="90.2" cy="318.0" r="3.4" fill="none" stroke="#F4973F" stroke-width="1.1"/>
<circle cx="103.6" cy="300.4" r="3.4" fill="none" stroke="#F4973F" stroke-width="1.1"/>
<polyline points="50.0,327.5 63.4,327.5 76.8,310.0 90.2,329.0 103.6,316.0" fill="none" stroke="#F4973F" stroke-width="1.35" stroke-linejoin="round"/>
<circle cx="50.0" cy="327.5" r="3.4" fill="none" stroke="#F4973F" stroke-width="1.1"/>
<circle cx="63.4" cy="327.5" r="3.4" fill="none" stroke="#F4973F" stroke-width="1.1"/>
<circle cx="76.8" cy="310.0" r="3.4" fill="none" stroke="#F4973F" stroke-width="1.1"/>
<circle cx="90.2" cy="329.0" r="3.4" fill="none" stroke="#F4973F" stroke-width="1.1"/>
<circle cx="103.6" cy="316.0" r="3.4" fill="none" stroke="#F4973F" stroke-width="1.1"/>
<polyline points="170.6,335.0 184.0,293.5 197.4,330.0 210.8,344.6 224.2,354.0 237.6,337.0 251.0,369.7 264.4,372.4 277.8,362.6 291.2,365.0 304.6,364.4 318.0,368.0" fill="none" stroke="#F4973F" stroke-width="1.35" stroke-linejoin="round"/>
<circle cx="170.6" cy="335.0" r="3.4" fill="none" stroke="#F4973F" stroke-width="1.1"/>
<circle cx="184.0" cy="293.5" r="3.4" fill="none" stroke="#F4973F" stroke-width="1.1"/>
<circle cx="197.4" cy="330.0" r="3.4" fill="none" stroke="#F4973F" stroke-width="1.1"/>
<circle cx="210.8" cy="344.6" r="3.4" fill="none" stroke="#F4973F" stroke-width="1.1"/>
<circle cx="224.2" cy="354.0" r="3.4" fill="none" stroke="#F4973F" stroke-width="1.1"/>
<circle cx="237.6" cy="337.0" r="3.4" fill="none" stroke="#F4973F" stroke-width="1.1"/>
<circle cx="251.0" cy="369.7" r="3.4" fill="none" stroke="#F4973F" stroke-width="1.1"/>
<circle cx="264.4" cy="372.4" r="3.4" fill="none" stroke="#F4973F" stroke-width="1.1"/>
<circle cx="277.8" cy="362.6" r="3.4" fill="none" stroke="#F4973F" stroke-width="1.1"/>
<circle cx="291.2" cy="365.0" r="3.4" fill="none" stroke="#F4973F" stroke-width="1.1"/>
<circle cx="304.6" cy="364.4" r="3.4" fill="none" stroke="#F4973F" stroke-width="1.1"/>
<circle cx="318.0" cy="368.0" r="3.4" fill="none" stroke="#F4973F" stroke-width="1.1"/>
<polyline points="170.6,338.0 184.0,324.1 197.4,331.0 210.8,376.0 224.2,368.7 237.6,361.4 251.0,386.5 264.4,375.0 277.8,368.0 291.2,370.0 304.6,382.3 318.0,371.0" fill="none" stroke="#F4973F" stroke-width="1.35" stroke-linejoin="round"/>
<circle cx="170.6" cy="338.0" r="3.4" fill="none" stroke="#F4973F" stroke-width="1.1"/>
<circle cx="184.0" cy="324.1" r="3.4" fill="none" stroke="#F4973F" stroke-width="1.1"/>
<circle cx="197.4" cy="331.0" r="3.4" fill="none" stroke="#F4973F" stroke-width="1.1"/>
<circle cx="210.8" cy="376.0" r="3.4" fill="none" stroke="#F4973F" stroke-width="1.1"/>
<circle cx="224.2" cy="368.7" r="3.4" fill="none" stroke="#F4973F" stroke-width="1.1"/>
<circle cx="237.6" cy="361.4" r="3.4" fill="none" stroke="#F4973F" stroke-width="1.1"/>
<circle cx="251.0" cy="386.5" r="3.4" fill="none" stroke="#F4973F" stroke-width="1.1"/>
<circle cx="264.4" cy="375.0" r="3.4" fill="none" stroke="#F4973F" stroke-width="1.1"/>
<circle cx="277.8" cy="368.0" r="3.4" fill="none" stroke="#F4973F" stroke-width="1.1"/>
<circle cx="291.2" cy="370.0" r="3.4" fill="none" stroke="#F4973F" stroke-width="1.1"/>
<circle cx="304.6" cy="382.3" r="3.4" fill="none" stroke="#F4973F" stroke-width="1.1"/>
<circle cx="318.0" cy="371.0" r="3.4" fill="none" stroke="#F4973F" stroke-width="1.1"/>
<polyline points="264.4,375.4 277.8,365.0 291.2,368.0 304.6,372.5 318.0,373.0" fill="none" stroke="#F4973F" stroke-width="1.35" stroke-linejoin="round"/>
<circle cx="264.4" cy="375.4" r="3.4" fill="none" stroke="#F4973F" stroke-width="1.1"/>
<circle cx="277.8" cy="365.0" r="3.4" fill="none" stroke="#F4973F" stroke-width="1.1"/>
<circle cx="291.2" cy="368.0" r="3.4" fill="none" stroke="#F4973F" stroke-width="1.1"/>
<circle cx="304.6" cy="372.5" r="3.4" fill="none" stroke="#F4973F" stroke-width="1.1"/>
<circle cx="318.0" cy="373.0" r="3.4" fill="none" stroke="#F4973F" stroke-width="1.1"/>
<polyline points="264.4,373.0 277.8,366.0 291.2,368.0 304.6,380.5 318.0,370.0" fill="none" stroke="#F4973F" stroke-width="1.35" stroke-linejoin="round"/>
<circle cx="264.4" cy="373.0" r="3.4" fill="none" stroke="#F4973F" stroke-width="1.1"/>
<circle cx="277.8" cy="366.0" r="3.4" fill="none" stroke="#F4973F" stroke-width="1.1"/>
<circle cx="291.2" cy="368.0" r="3.4" fill="none" stroke="#F4973F" stroke-width="1.1"/>
<circle cx="304.6" cy="380.5" r="3.4" fill="none" stroke="#F4973F" stroke-width="1.1"/>
<circle cx="318.0" cy="370.0" r="3.4" fill="none" stroke="#F4973F" stroke-width="1.1"/>
<rect x="37.5" y="245.4" width="294.0" height="205.1" fill="none" stroke="#000" stroke-width="1.6" stroke-linejoin="round"/>
<line x1="50.6" y1="450.5" x2="50.6" y2="446.5" stroke="#000" stroke-width="1"/>
<line x1="64.0" y1="450.5" x2="64.0" y2="446.5" stroke="#000" stroke-width="1"/>
<line x1="77.4" y1="450.5" x2="77.4" y2="446.5" stroke="#000" stroke-width="1"/>
<line x1="90.8" y1="450.5" x2="90.8" y2="446.5" stroke="#000" stroke-width="1"/>
<line x1="104.2" y1="450.5" x2="104.2" y2="446.5" stroke="#000" stroke-width="1"/>
<line x1="117.6" y1="450.5" x2="117.6" y2="446.5" stroke="#000" stroke-width="1"/>
<line x1="131.0" y1="450.5" x2="131.0" y2="446.5" stroke="#000" stroke-width="1"/>
<line x1="144.4" y1="450.5" x2="144.4" y2="446.5" stroke="#000" stroke-width="1"/>
<line x1="157.8" y1="450.5" x2="157.8" y2="446.5" stroke="#000" stroke-width="1"/>
<line x1="171.2" y1="450.5" x2="171.2" y2="446.5" stroke="#000" stroke-width="1"/>
<line x1="184.6" y1="450.5" x2="184.6" y2="446.5" stroke="#000" stroke-width="1"/>
<line x1="198.0" y1="450.5" x2="198.0" y2="446.5" stroke="#000" stroke-width="1"/>
<line x1="211.4" y1="450.5" x2="211.4" y2="446.5" stroke="#000" stroke-width="1"/>
<line x1="224.8" y1="450.5" x2="224.8" y2="446.5" stroke="#000" stroke-width="1"/>
<line x1="238.2" y1="450.5" x2="238.2" y2="446.5" stroke="#000" stroke-width="1"/>
<line x1="251.6" y1="450.5" x2="251.6" y2="446.5" stroke="#000" stroke-width="1"/>
<line x1="265.0" y1="450.5" x2="265.0" y2="446.5" stroke="#000" stroke-width="1"/>
<line x1="278.4" y1="450.5" x2="278.4" y2="446.5" stroke="#000" stroke-width="1"/>
<line x1="291.8" y1="450.5" x2="291.8" y2="446.5" stroke="#000" stroke-width="1"/>
<line x1="305.2" y1="450.5" x2="305.2" y2="446.5" stroke="#000" stroke-width="1"/>
<line x1="318.6" y1="450.5" x2="318.6" y2="446.5" stroke="#000" stroke-width="1"/>
<line x1="37.5" y1="245.4" x2="41.5" y2="245.4" stroke="#000" stroke-width="1"/>
<text transform="translate(33.00,249.80) scale(1.120,1)" text-anchor="end" font-family="Liberation Serif" font-weight="bold" font-size="8.6">1000</text>
<line x1="37.5" y1="296.7" x2="41.5" y2="296.7" stroke="#000" stroke-width="1"/>
<text transform="translate(33.00,299.88) scale(1.120,1)" text-anchor="end" font-family="Liberation Serif" font-weight="bold" font-size="8.6">100</text>
<line x1="37.5" y1="347.9" x2="41.5" y2="347.9" stroke="#000" stroke-width="1"/>
<text transform="translate(33.00,351.15) scale(1.120,1)" text-anchor="end" font-family="Liberation Serif" font-weight="bold" font-size="8.6">10</text>
<line x1="37.5" y1="399.2" x2="41.5" y2="399.2" stroke="#000" stroke-width="1"/>
<text transform="translate(31.00,402.43) scale(1.120,1)" text-anchor="end" font-family="Liberation Serif" font-weight="bold" font-size="8.6">1</text>
<line x1="37.5" y1="450.5" x2="41.5" y2="450.5" stroke="#000" stroke-width="1"/>
<text transform="translate(33.00,453.70) scale(1.120,1)" text-anchor="end" font-family="Liberation Serif" font-weight="bold" font-size="8.6">0.1</text>
<text transform="translate(51.50,461.60) scale(1.120,1)" text-anchor="middle" font-family="Liberation Serif" font-weight="bold" font-size="8.6">Cs</text>
<text transform="translate(64.90,461.60) scale(1.120,1)" text-anchor="middle" font-family="Liberation Serif" font-weight="bold" font-size="8.6">Rb</text>
<text transform="translate(78.30,461.60) scale(1.120,1)" text-anchor="middle" font-family="Liberation Serif" font-weight="bold" font-size="8.6">Ba</text>
<text transform="translate(91.70,461.60) scale(1.120,1)" text-anchor="middle" font-family="Liberation Serif" font-weight="bold" font-size="8.6">Th</text>
<text transform="translate(105.10,461.60) scale(1.120,1)" text-anchor="middle" font-family="Liberation Serif" font-weight="bold" font-size="8.6">U</text>
<text transform="translate(118.50,461.60) scale(1.120,1)" text-anchor="middle" font-family="Liberation Serif" font-weight="bold" font-size="8.6">Nb</text>
<text transform="translate(131.90,461.60) scale(1.120,1)" text-anchor="middle" font-family="Liberation Serif" font-weight="bold" font-size="8.6">Ta</text>
<text transform="translate(145.30,461.60) scale(1.120,1)" text-anchor="middle" font-family="Liberation Serif" font-weight="bold" font-size="8.6">K</text>
<text transform="translate(158.70,461.60) scale(1.120,1)" text-anchor="middle" font-family="Liberation Serif" font-weight="bold" font-size="8.6">La</text>
<text transform="translate(172.10,461.60) scale(1.120,1)" text-anchor="middle" font-family="Liberation Serif" font-weight="bold" font-size="8.6">Ce</text>
<text transform="translate(185.50,461.60) scale(1.120,1)" text-anchor="middle" font-family="Liberation Serif" font-weight="bold" font-size="8.6">Pb</text>
<text transform="translate(198.90,461.60) scale(1.120,1)" text-anchor="middle" font-family="Liberation Serif" font-weight="bold" font-size="8.6">Sr</text>
<text transform="translate(212.30,461.60) scale(1.120,1)" text-anchor="middle" font-family="Liberation Serif" font-weight="bold" font-size="8.6">Nd</text>
<text transform="translate(225.70,461.60) scale(1.120,1)" text-anchor="middle" font-family="Liberation Serif" font-weight="bold" font-size="8.6">Hf</text>
<text transform="translate(239.10,461.60) scale(1.120,1)" text-anchor="middle" font-family="Liberation Serif" font-weight="bold" font-size="8.6">Zr</text>
<text transform="translate(252.50,461.60) scale(1.120,1)" text-anchor="middle" font-family="Liberation Serif" font-weight="bold" font-size="8.6">Sm</text>
<text transform="translate(265.90,461.60) scale(1.120,1)" text-anchor="middle" font-family="Liberation Serif" font-weight="bold" font-size="8.6">Ti</text>
<text transform="translate(279.30,461.60) scale(1.120,1)" text-anchor="middle" font-family="Liberation Serif" font-weight="bold" font-size="8.6">Yb</text>
<text transform="translate(292.70,461.60) scale(1.120,1)" text-anchor="middle" font-family="Liberation Serif" font-weight="bold" font-size="8.6">Y</text>
<text transform="translate(306.10,461.60) scale(1.120,1)" text-anchor="middle" font-family="Liberation Serif" font-weight="bold" font-size="8.6">Er</text>
<text transform="translate(319.50,461.60) scale(1.120,1)" text-anchor="middle" font-family="Liberation Serif" font-weight="bold" font-size="8.6">Yb</text>
<text transform="translate(1.70,238.60) scale(1.000,1)" text-anchor="start" font-family="Liberation Sans" font-size="10.4">(b)</text>
<text transform="translate(9.0,348.3) scale(1.12,1) rotate(-90)" text-anchor="middle" font-family="Liberation Serif" font-weight="bold" font-size="9.2" textLength="112.5" lengthAdjust="spacingAndGlyphs">Sample/Primative mantle</text>
<rect x="233.7" y="253.5" width="77.9" height="25.3" fill="#fff" stroke="#555" stroke-width="1.0"/>
<text transform="translate(237.40,263.80) scale(1.120,1)" text-anchor="start" font-family="Liberation Serif" font-weight="bold" font-size="8.9">Ghahan</text>
<text transform="translate(237.40,274.80) scale(1.120,1)" text-anchor="start" font-family="Liberation Serif" font-weight="bold" font-size="8.9">Sarbadan</text>
<line x1="280.5" y1="261" x2="308" y2="261" stroke="#F4973F" stroke-width="1.1"/>
<circle cx="294.3" cy="261.0" r="4.7" fill="none" stroke="#F4973F" stroke-width="1.1"/>
<line x1="281" y1="272.4" x2="308" y2="272.4" stroke="#111" stroke-width="1.1"/>
<path d="M289.0 272.4L295.3 267.2L301.6 272.4L295.3 277.6Z" fill="none" stroke="#111" stroke-width="1.1"/>
</svg>
</body></html>
